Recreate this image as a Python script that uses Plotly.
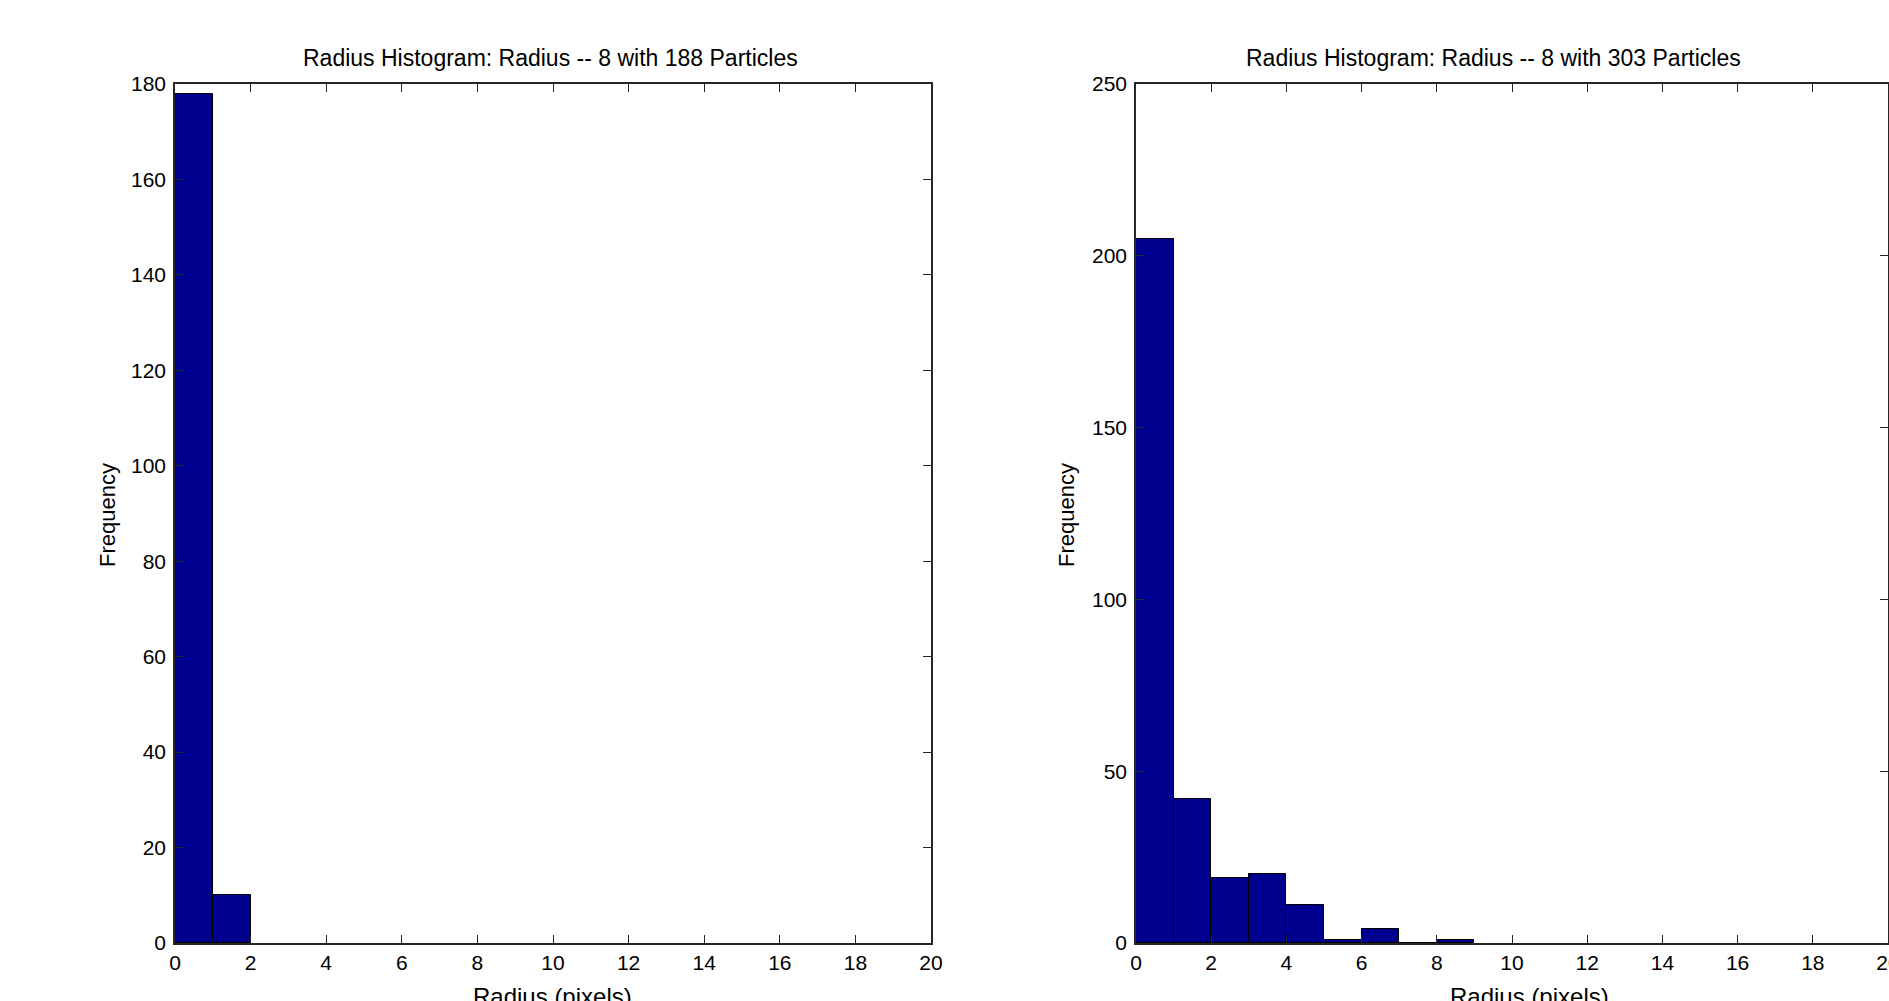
import plotly.graph_objects as go

W, H = 1889, 1001

# ---- data ----
bin_left_centers = [0.5, 1.5]
left_counts = [178, 10]
bin_right_centers = [0.5, 1.5, 2.5, 3.5, 4.5, 5.5, 6.5, 7.5, 8.5]
right_counts = [205, 42, 19, 20, 11, 1, 4, 0, 1]

left_title = "Radius Histogram: Radius -- 8 with 188 Particles"
right_title = "Radius Histogram: Radius -- 8 with 303 Particles"
x_label = "Radius (pixels)"
y_label = "Frequency"

BAR = "#00008F"
AX = "#262626"
FONT = "Liberation Sans, Arial, sans-serif"

def px(x):
    return x / W

def py(y):
    return 1 - y / H

fig = go.Figure()
fig.add_trace(go.Bar(x=bin_left_centers, y=left_counts, width=1,
                     marker=dict(color=BAR, line=dict(color="black", width=1)),
                     xaxis="x", yaxis="y", showlegend=False))
fig.add_trace(go.Bar(x=bin_right_centers, y=right_counts, width=1,
                     marker=dict(color=BAR, line=dict(color="black", width=1)),
                     xaxis="x2", yaxis="y2", showlegend=False))

common_x = dict(range=[0, 20], tick0=0, dtick=2, ticks="inside", ticklen=8,
                tickwidth=1.3, tickcolor=AX, showline=True, linecolor=AX,
                linewidth=1.5, mirror="ticks", showgrid=False, zeroline=False,
                tickfont=dict(family=FONT, size=21, color="black"),
                ticklabeloverflow="allow",
                automargin=False, fixedrange=True)
common_y = dict(tick0=0, ticks="inside", ticklen=8, tickwidth=1.3,
                tickcolor=AX, showline=True, linecolor=AX, linewidth=1.5,
                mirror="ticks", showgrid=False, zeroline=False,
                tickfont=dict(family=FONT, size=21, color="black"),
                ticklabelstandoff=3, ticklabeloverflow="allow",
                automargin=False, fixedrange=True)

ydom = [py(943), py(84)]
fig.update_layout(
    width=W, height=H,
    margin=dict(l=0, r=0, t=0, b=0, autoexpand=False),
    paper_bgcolor="white", plot_bgcolor="white",
    bargap=0,
    xaxis=dict(domain=[px(175), px(931)], anchor="y", **common_x),
    yaxis=dict(domain=ydom, anchor="x", range=[0, 180], dtick=20, **common_y),
    xaxis2=dict(domain=[px(1136), px(1888)], anchor="y2", **common_x),
    yaxis2=dict(domain=ydom, anchor="x2", range=[0, 250], dtick=50, **common_y),
)

ann = []
for (cx, txt) in [(550, left_title), (1493, right_title)]:
    ann.append(dict(text=txt, x=px(cx), y=py(57.5), xref="paper", yref="paper",
                    xanchor="center", yanchor="middle", showarrow=False,
                    font=dict(family=FONT, size=23, color="black")))
for cx in [107, 1066]:
    ann.append(dict(text=y_label, x=px(cx), y=py(515), xref="paper", yref="paper",
                    xanchor="center", yanchor="middle", showarrow=False, textangle=-90,
                    font=dict(family=FONT, size=22, color="black")))
for cx in [552, 1529]:
    ann.append(dict(text=x_label, x=px(cx), y=py(996), xref="paper", yref="paper",
                    xanchor="center", yanchor="middle", showarrow=False,
                    font=dict(family=FONT, size=24, color="black")))
fig.update_layout(annotations=ann)

fig.write_html("out.html")
